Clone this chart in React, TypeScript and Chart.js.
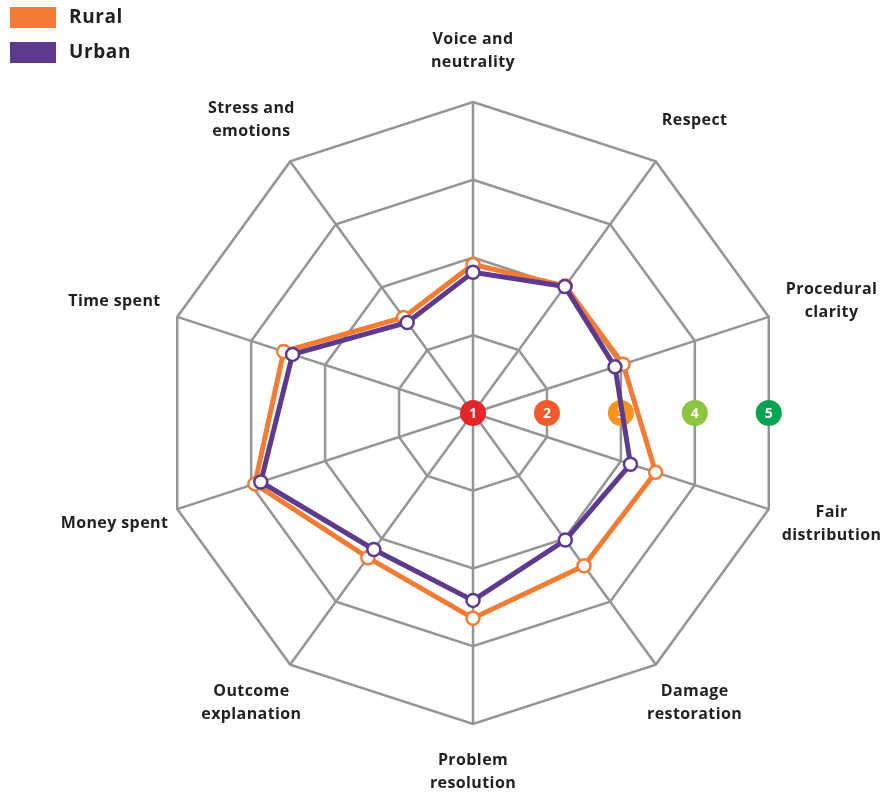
import React, { useEffect, useRef } from "react";
import { Chart, registerables } from "chart.js";

Chart.register(...registerables);

const categories: string[][] = [
  ["Voice and", "neutrality"],
  ["Respect"],
  ["Procedural", "clarity"],
  ["Fair", "distribution"],
  ["Damage", "restoration"],
  ["Problem", "resolution"],
  ["Outcome", "explanation"],
  ["Money spent"],
  ["Time spent"],
  ["Stress and", "emotions"],
];

const ruralValues = [2.91, 3.02, 3.03, 3.47, 3.43, 3.64, 3.3, 3.95, 3.56, 2.52];
const urbanValues = [2.81, 3.01, 2.92, 3.13, 3.02, 3.41, 3.17, 3.87, 3.44, 2.44];

const tickValues = [1, 2, 3, 4, 5];
const tickColors = ["#E4252A", "#F15A2B", "#F7931E", "#8CC63F", "#00A551"];

const RURAL_COLOR = "#F47B33";
const URBAN_COLOR = "#5E3A8E";
const GRID_COLOR = "#939598";
const TEXT_COLOR = "#231F20";
const FONT = "'Open Sans', Lato, sans-serif";

const layoutPlugin = {
  id: "fixedCenter",
  afterLayout(chart: any) {
    const s = chart.scales.r;
    s.xCenter = 473;
    s.yCenter = 413;
    s.drawingArea = 311;
  },
  beforeDatasetsDraw(chart: any) {
    const s = chart.scales.r;
    const ctx = chart.ctx;
    const n = chart.data.labels.length;
    const edgeFactor = Math.cos(Math.PI / n);
    ctx.save();
    tickValues.forEach((v, i) => {
      const x = s.xCenter + s.getDistanceFromCenterForValue(v) * edgeFactor;
      const y = s.yCenter;
      ctx.beginPath();
      ctx.arc(x, y, 13, 0, Math.PI * 2);
      ctx.fillStyle = tickColors[i];
      ctx.fill();
      ctx.fillStyle = "#ffffff";
      ctx.font = `bold 14px ${FONT}`;
      ctx.textAlign = "center";
      ctx.textBaseline = "middle";
      ctx.fillText(String(v), x, y + 1);
    });
    ctx.restore();
  },
  afterDraw(chart: any) {
    const s = chart.scales.r;
    const ctx = chart.ctx;
    const R = s.drawingArea;
    ctx.save();
    ctx.fillStyle = TEXT_COLOR;
    ctx.font = `bold 16px ${FONT}`;
    (ctx as any).letterSpacing = "0.4px";
    ctx.textAlign = "center";
    ctx.textBaseline = "middle";
    const lineH = 23;
    (chart.data.labels as string[][]).forEach((lines, i) => {
      const px = s.getPointPosition(i, R + 66).x;
      const cosA = Math.cos(s.getIndexAngle(i));
      const py = s.getPointPosition(i, R + (cosA >= 0 ? 51 : 48)).y;
      const h = lines.length * lineH;
      lines.forEach((t, j) => {
        ctx.fillText(t, px, py - h / 2 + lineH / 2 + j * lineH);
      });
    });

    // legend
    ctx.font = `bold 19px ${FONT}`;
    (ctx as any).letterSpacing = "0.6px";
    ctx.textAlign = "left";
    const items = [chart.data.datasets[0], chart.data.datasets[1]];
    items.forEach((ds: any, i: number) => {
      const top = 7 + i * 35;
      ctx.fillStyle = ds.borderColor;
      ctx.fillRect(10, top, 46, 21);
      ctx.fillStyle = TEXT_COLOR;
      ctx.fillText(ds.label, 69, top + 11);
    });
    ctx.restore();
  },
};

export default function App() {
  const ref = useRef<HTMLCanvasElement | null>(null);

  useEffect(() => {
    document.body.style.margin = "0";
    const canvas = ref.current;
    if (!canvas) return;
    const chart = new Chart(canvas, {
      type: "radar",
      data: {
        labels: categories as any,
        datasets: [
          {
            label: "Rural",
            data: ruralValues,
            order: 1,
            borderColor: RURAL_COLOR,
            backgroundColor: RURAL_COLOR,
            borderWidth: 5,
            fill: false,
            pointRadius: 6.5,
            pointBorderWidth: 2.5,
            pointBackgroundColor: "#ffffff",
            pointBorderColor: RURAL_COLOR,
          },
          {
            label: "Urban",
            data: urbanValues,
            order: 0,
            borderColor: URBAN_COLOR,
            backgroundColor: URBAN_COLOR,
            borderWidth: 5,
            fill: false,
            pointRadius: 6.5,
            pointBorderWidth: 2.5,
            pointBackgroundColor: "#ffffff",
            pointBorderColor: URBAN_COLOR,
          },
        ],
      },
      options: {
        responsive: false,
        animation: false,
        plugins: {
          legend: { display: false },
          tooltip: { enabled: false },
        },
        elements: { line: { tension: 0 } },
        scales: {
          r: {
            min: 1,
            max: 5,
            beginAtZero: false,
            ticks: { stepSize: 1, display: false },
            pointLabels: { display: false },
            grid: { color: GRID_COLOR, lineWidth: 2.5, circular: false },
            angleLines: { color: GRID_COLOR, lineWidth: 2.5 },
          },
        },
      },
      plugins: [layoutPlugin],
    });
    return () => chart.destroy();
  }, []);

  return (
    <canvas
      ref={ref}
      width={888}
      height={795}
      style={{ display: "block", width: 888, height: 795 }}
    />
  );
}
